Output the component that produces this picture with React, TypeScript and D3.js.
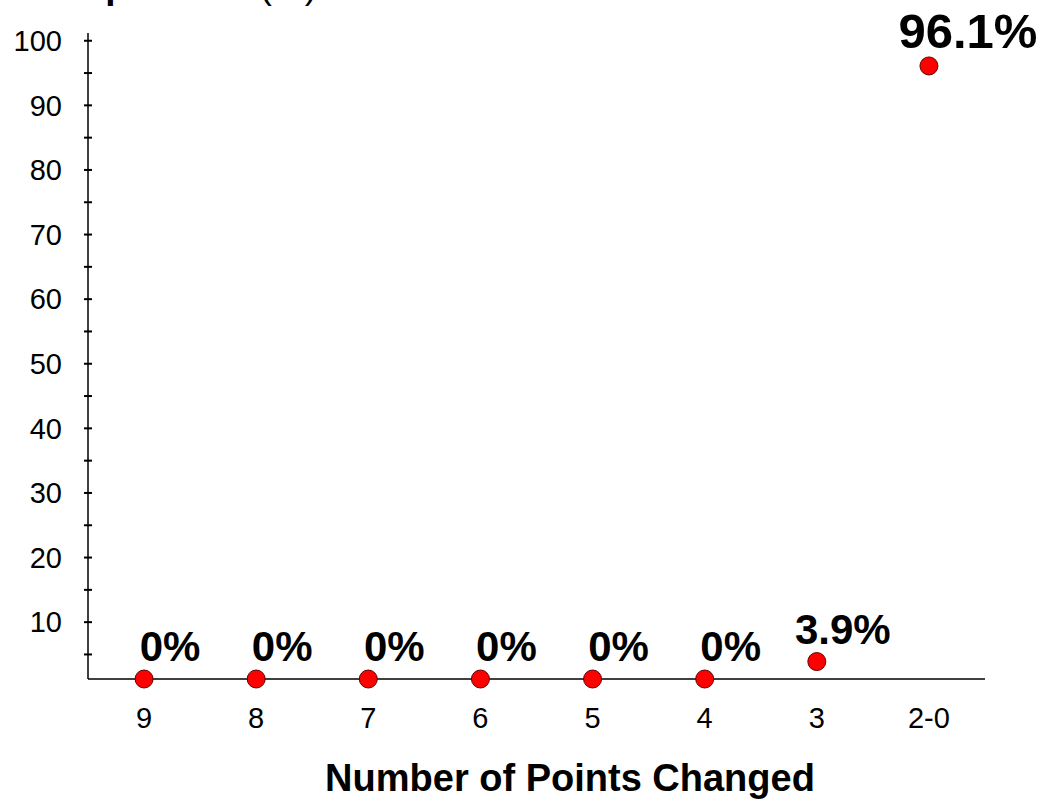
import * as d3 from 'd3';
import { useEffect, useRef } from 'react';

// Chart data
const categories = ['9', '8', '7', '6', '5', '4', '3', '2-0'];
const percentValues = [0, 0, 0, 0, 0, 0, 3.9, 96.1];
const dataLabels = ['0%', '0%', '0%', '0%', '0%', '0%', '3.9%', '96.1%'];
const yTickLabels = [10, 20, 30, 40, 50, 60, 70, 80, 90, 100];
const yMinorTicks = [5, 10, 15, 20, 25, 30, 35, 40, 45, 50, 55, 60, 65, 70, 75, 80, 85, 90, 95, 100];

export default function App() {
    const chartRef = useRef<SVGSVGElement | null>(null);

    useEffect(() => {
        const width = 1054;
        const height = 800;
        const plot = { left: 88, right: 985, top: 33, bottom: 679 };
        const font = 'Liberation Sans, Arial, sans-serif';

        const svg = d3.select(chartRef.current);
        svg.selectAll('*').remove();
        svg.attr('width', width).attr('height', height);

        svg.append('rect').attr('width', width).attr('height', height).attr('fill', '#fff');

        // Scales
        const xScale = d3.scalePoint<string>()
            .domain(categories)
            .range([plot.left, plot.right])
            .padding(0.5);

        const yScale = d3.scaleLinear()
            .domain([1.2, 101.2])
            .range([plot.bottom, plot.top])
            .clamp(true);

        // Y axis line + crossing ticks
        const yAxis = svg.append('g');
        yAxis.append('line')
            .attr('x1', plot.left).attr('x2', plot.left)
            .attr('y1', plot.top).attr('y2', plot.bottom)
            .attr('stroke', '#000').attr('stroke-width', 1.5);
        yAxis.selectAll('line.tick')
            .data(yMinorTicks)
            .join('line')
            .attr('class', 'tick')
            .attr('x1', plot.left - 4).attr('x2', plot.left + 4)
            .attr('y1', (d) => yScale(d)).attr('y2', (d) => yScale(d))
            .attr('stroke', '#000').attr('stroke-width', 2);
        yAxis.selectAll('text')
            .data(yTickLabels)
            .join('text')
            .attr('x', 62)
            .attr('y', (d) => yScale(d))
            .attr('dy', '0.35em')
            .attr('text-anchor', 'end')
            .style('font-family', font)
            .style('font-size', '29px')
            .text((d) => d);

        // X axis line + category labels
        svg.append('line')
            .attr('x1', plot.left).attr('x2', plot.right)
            .attr('y1', plot.bottom).attr('y2', plot.bottom)
            .attr('stroke', '#000').attr('stroke-width', 1.5);
        svg.append('g')
            .selectAll('text')
            .data(categories)
            .join('text')
            .attr('x', (d) => xScale(d) as number)
            .attr('y', 728)
            .attr('text-anchor', 'middle')
            .style('font-family', font)
            .style('font-size', '29px')
            .text((d) => d);

        // Axis title
        svg.append('text')
            .attr('x', 570)
            .attr('y', 791)
            .attr('text-anchor', 'middle')
            .style('font-family', font)
            .style('font-size', '38px')
            .style('font-weight', 'bold')
            .text('Number of Points Changed');

        // Y title (cut off at the top edge)
        const yTitle = svg.append('text')
            .attr('x', 317)
            .attr('y', -2)
            .attr('text-anchor', 'end')
            .style('font-family', font)
            .style('font-size', '37px');
        yTitle.append('tspan').style('font-weight', 'bold').text('Percentage of Population');
        yTitle.append('tspan').text(' (%)');

        // Points
        svg.append('g')
            .selectAll('circle')
            .data(percentValues)
            .join('circle')
            .attr('cx', (_, i) => xScale(categories[i]) as number)
            .attr('cy', (d) => yScale(d))
            .attr('r', 9)
            .attr('fill', '#ff0000')
            .attr('stroke', '#600000')
            .attr('stroke-width', 1);

        // Data labels
        const maxVal = d3.max(percentValues) as number;
        svg.append('g')
            .selectAll('text')
            .data(percentValues)
            .join('text')
            .attr('x', (d, i) => (xScale(categories[i]) as number) + (d === maxVal ? 39 : 26))
            .attr('y', (d) => yScale(d) - 18)
            .attr('text-anchor', 'middle')
            .style('font-family', font)
            .style('font-weight', 'bold')
            .style('font-size', (d) => (d === maxVal ? '49px' : '42px'))
            .text((_, i) => dataLabels[i]);
    }, []);

    return (
        <svg ref={chartRef} style={{ position: 'absolute', left: 0, top: 0, display: 'block' }} />
    );
}
